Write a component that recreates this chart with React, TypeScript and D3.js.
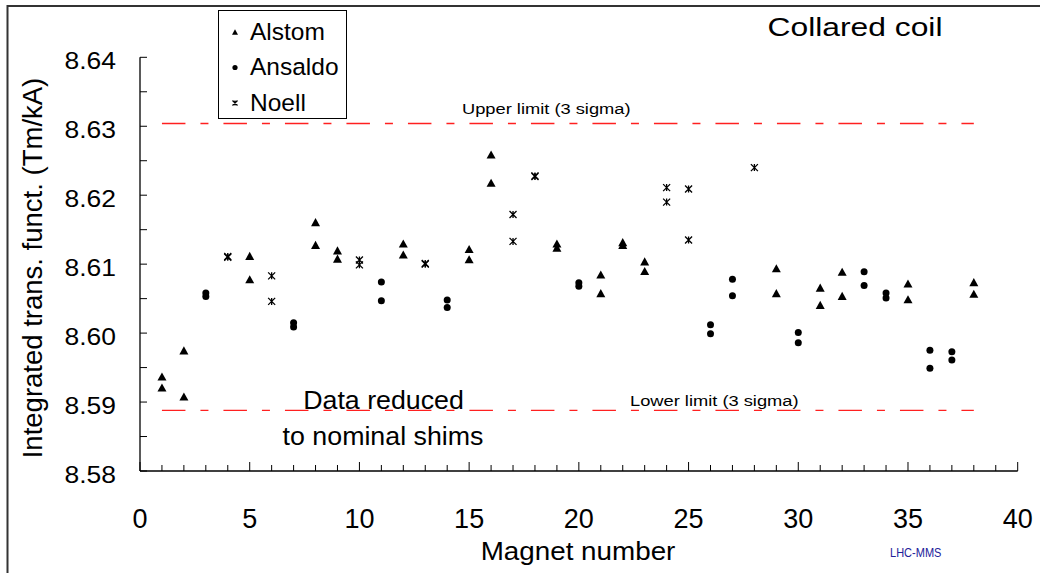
import React from "react";
import * as d3 from "d3";

// ---- data (magnet number, integrated transfer function Tm/kA) ----
const alstom: [number, number][] = [
  [1, 8.5937], [1, 8.5921], [2, 8.5975], [2, 8.5908], [5, 8.6112], [5, 8.6078],
  [8, 8.6161], [8, 8.6128], [9, 8.612], [9, 8.6108], [12, 8.613], [12, 8.6114],
  [15, 8.6122], [15, 8.6107], [16, 8.6259], [16, 8.6218], [19, 8.613], [19, 8.6124],
  [21, 8.6085], [21, 8.6058], [22, 8.6132], [22, 8.6128], [23, 8.6104], [23, 8.609],
  [29, 8.6094], [29, 8.6058], [31, 8.6066], [31, 8.6041], [32, 8.6089], [32, 8.6054],
  [35, 8.6072], [35, 8.6049], [38, 8.6074], [38, 8.6057],
];
const ansaldo: [number, number][] = [
  [3, 8.6058], [3, 8.6053], [7, 8.6015], [7, 8.6009], [11, 8.6074], [11, 8.6047],
  [14, 8.6048], [14, 8.6037], [20, 8.6073], [20, 8.6068], [26, 8.6012], [26, 8.5999],
  [27, 8.6078], [27, 8.6054], [30, 8.6001], [30, 8.5986], [33, 8.6089], [33, 8.6069],
  [34, 8.6058], [34, 8.6051], [36, 8.5975], [36, 8.5949], [37, 8.5973], [37, 8.5961],
];
const noell: [number, number][] = [
  [4, 8.6111], [4, 8.611], [6, 8.6083], [6, 8.6046], [10, 8.6106], [10, 8.6099],
  [13, 8.6101], [13, 8.61], [17, 8.6172], [17, 8.6133], [18, 8.6228], [18, 8.6227],
  [24, 8.6211], [24, 8.619], [25, 8.6209], [25, 8.6135], [28, 8.624],
];
const upperLimit = 8.6304;
const lowerLimit = 8.5888;
const limitRange: [number, number] = [1, 38];
const xTicks = [0, 5, 10, 15, 20, 25, 30, 35, 40];
const yTicks = [8.58, 8.59, 8.6, 8.61, 8.62, 8.63, 8.64];
const legendItems = ["Alstom", "Ansaldo", "Noell"];

const FONT = "'Liberation Sans', Arial, Helvetica, sans-serif";

const x = d3.scaleLinear().domain([0, 40]).range([140, 1017.7]);
const y = d3.scaleLinear().domain([8.58, 8.64]).range([471, 57.3]);

function T(props: {
  x: number; y: number; size: number; sx?: number; anchor?: string;
  fill?: string; rotate?: number; children: React.ReactNode;
}) {
  const { sx = 1, anchor = "start", fill = "#000", rotate = 0 } = props;
  return (
    <text
      transform={`translate(${props.x},${props.y}) rotate(${rotate}) scale(${sx},1)`}
      fontSize={props.size}
      textAnchor={anchor as any}
      fill={fill}
      fontFamily={FONT}
    >
      {props.children}
    </text>
  );
}

function Tri({ cx, cy, s }: { cx: number; cy: number; s: number }) {
  const h = s * 0.9;
  return (
    <path
      d={`M${cx},${cy - h / 2} L${cx + s / 2},${cy + h / 2} L${cx - s / 2},${cy + h / 2} Z`}
      fill="#000"
    />
  );
}
function Star({ cx, cy, s }: { cx: number; cy: number; s: number }) {
  const r = s / 2;
  return (
    <path
      d={`M${cx - r},${cy - r} L${cx + r},${cy + r} M${cx + r},${cy - r} L${cx - r},${cy + r} M${cx},${cy - r} L${cx},${cy + r}`}
      stroke="#000"
      strokeWidth={1.3}
      fill="none"
    />
  );
}

export default function App() {
  const xMinor = d3.range(0, 41, 1);
  const yMinor = d3.range(0, 13).map((i) => 8.58 + i * 0.005);
  const limitLine = d3.line<number>().x((d) => x(d[0])).y((d) => y(d[1]));
  return (
    <svg
      width={1040}
      height={573}
      style={{ position: "absolute", left: 0, top: 0, background: "#fff" }}
    >
      <rect x={0} y={0} width={1040} height={573} fill="#fff" />
      <rect x={7.5} y={6} width={1200} height={1000} fill="none" stroke="#333" strokeWidth={2} />

      {/* limit lines */}
      {[upperLimit, lowerLimit].map((v, i) => (
        <path
          key={i}
          d={limitLine([[limitRange[0], v], [limitRange[1], v]] as any) || ""}
          stroke="#ff2020"
          strokeWidth={1.3}
          strokeDasharray="23.5,15,8,15"
          fill="none"
        />
      ))}
      <T x={462} y={114} size={15.5} sx={1.18}>Upper limit (3 sigma)</T>
      <T x={630} y={406} size={15.5} sx={1.18}>Lower limit (3 sigma)</T>

      {/* axes */}
      <line x1={140} x2={140} y1={y(8.64)} y2={y(8.58)} stroke="#000" strokeWidth={1.3} />
      <line x1={x(0)} x2={x(40)} y1={y(8.58)} y2={y(8.58)} stroke="#000" strokeWidth={1.3} />
      {yMinor.map((v, i) => (
        <line key={"ym" + i} x1={140} x2={147} y1={y(v)} y2={y(v)} stroke="#000" strokeWidth={1} />
      ))}
      {xMinor.map((v) => (
        <line
          key={"xm" + v}
          x1={x(v)} x2={x(v)}
          y1={y(8.58)} y2={y(8.58) - (v % 5 === 0 ? 9 : 6)}
          stroke="#000" strokeWidth={1}
        />
      ))}
      {yTicks.map((v) => (
        <T key={"yt" + v} x={116} y={y(v) + 12} size={24.5} sx={1.08} anchor="end">
          {v.toFixed(2)}
        </T>
      ))}
      {xTicks.map((v) => (
        <T key={"xt" + v} x={x(v)} y={528} size={27} anchor="middle">{String(v)}</T>
      ))}
      <T x={578} y={560} size={26} sx={1.07} anchor="middle">Magnet number</T>
      <T x={42} y={268} size={27.5} rotate={-90} anchor="middle">Integrated trans. funct. (Tm/kA)</T>
      <T x={890} y={557} size={12} sx={0.92} fill="#22229a">LHC-MMS</T>

      {/* data */}
      {alstom.map((d, i) => <Tri key={"a" + i} cx={x(d[0])} cy={y(d[1])} s={9} />)}
      {ansaldo.map((d, i) => <circle key={"b" + i} cx={x(d[0])} cy={y(d[1])} r={3.5} fill="#000" />)}
      {noell.map((d, i) => <Star key={"c" + i} cx={x(d[0])} cy={y(d[1])} s={7} />)}

      {/* annotations */}
      <T x={383.5} y={409} size={26} sx={1.03} anchor="middle">Data reduced</T>
      <T x={383} y={445} size={26} sx={1.03} anchor="middle">to nominal shims</T>
      <T x={855} y={36} size={26.5} sx={1.2} anchor="middle">Collared coil</T>

      {/* legend */}
      <rect x={218.5} y={10.5} width={128} height={108} fill="#fff" stroke="#000" strokeWidth={1} />
      {legendItems.map((name, i) => {
        const cy = 32 + i * 35.5;
        return (
          <g key={name}>
            {i === 0 && <Tri cx={235} cy={cy} s={6} />}
            {i === 1 && <circle cx={235} cy={cy} r={2.6} fill="#000" />}
            {i === 2 && <Star cx={235} cy={cy} s={5} />}
            <T x={250} y={cy + 7.5} size={24.5}>{name}</T>
          </g>
        );
      })}
    </svg>
  );
}
